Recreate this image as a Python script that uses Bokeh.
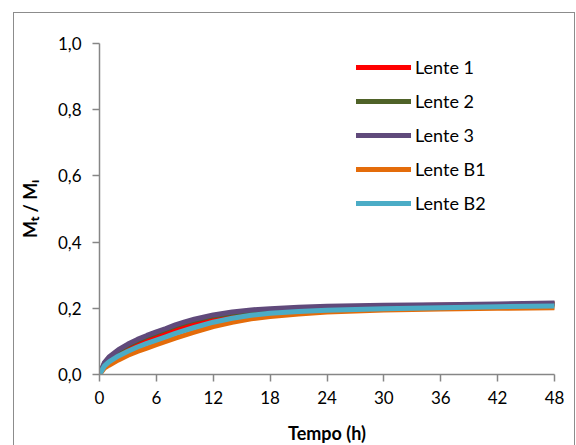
from bokeh.plotting import figure
from bokeh.models import Legend, LegendItem, CustomJSTickFormatter, FixedTicker, Range1d
from bokeh.embed import file_html
from bokeh.resources import INLINE

t = [0, 0.5, 1, 2, 3, 4, 5, 6, 7, 8, 9, 10, 12, 14, 16, 18, 21, 24, 30, 36, 42, 48]
lente1 = [0, 0.029, 0.044, 0.064, 0.079, 0.092, 0.104, 0.115, 0.126, 0.136, 0.145, 0.153, 0.168, 0.179, 0.187, 0.193, 0.199, 0.203, 0.207, 0.209, 0.211, 0.213]
lente2 = [0, 0.032, 0.050, 0.072, 0.089, 0.103, 0.115, 0.126, 0.136, 0.147, 0.156, 0.164, 0.177, 0.186, 0.192, 0.196, 0.200, 0.203, 0.206, 0.208, 0.210, 0.213]
lente3 = [0, 0.035, 0.053, 0.075, 0.092, 0.106, 0.118, 0.129, 0.139, 0.150, 0.159, 0.167, 0.180, 0.189, 0.195, 0.199, 0.203, 0.206, 0.209, 0.211, 0.213, 0.216]
lenteB1 = [0, 0.019, 0.028, 0.044, 0.058, 0.070, 0.080, 0.090, 0.100, 0.110, 0.119, 0.128, 0.145, 0.158, 0.168, 0.175, 0.183, 0.189, 0.195, 0.198, 0.200, 0.202]
lenteB2 = [0, 0.025, 0.038, 0.056, 0.070, 0.083, 0.094, 0.104, 0.114, 0.124, 0.133, 0.142, 0.158, 0.170, 0.179, 0.185, 0.190, 0.194, 0.199, 0.202, 0.205, 0.207]

names = ["Lente 1", "Lente 2", "Lente 3", "Lente B1", "Lente B2"]
series = [lente1, lente2, lente3, lenteB1, lenteB2]
colors = ["#FF0000", "#4F6228", "#604A7B", "#E46C0A", "#4BACC6"]

x_ticks = [0, 6, 12, 18, 24, 30, 36, 42, 48]
y_ticks = [0.0, 0.2, 0.4, 0.6, 0.8, 1.0]

FONT = "Lato"
AXIS_COLOR = "#868686"

p = figure(frame_width=455, frame_height=331, output_backend="svg", toolbar_location=None,
           x_range=Range1d(0, 48), y_range=Range1d(0, 1),
           min_border_left=85, min_border_right=20, min_border_top=30, min_border_bottom=68)
p.margin = (12, 0, 0, 13)
p.styles = {"border": "1px solid #8c8c8c"}
p.outline_line_color = None
p.xgrid.visible = False
p.ygrid.visible = False
p.background_fill_color = "white"
p.border_fill_color = "white"

renderers = []
for name, ys, c in zip(names, series, colors):
    r = p.line(t, ys, line_color=c, line_width=5, line_cap="round", line_join="round")
    renderers.append(r)

for ax in (p.xaxis[0], p.yaxis[0]):
    ax.axis_line_color = AXIS_COLOR
    ax.axis_line_width = 1.5
    ax.major_tick_line_color = AXIS_COLOR
    ax.major_tick_line_width = 1.5
    ax.major_tick_out = 7
    ax.major_tick_in = 0
    ax.minor_tick_line_color = None
    ax.major_label_text_font = FONT
    ax.major_label_text_font_size = "17px"
    ax.major_label_text_color = "black"
    ax.axis_label_text_font = FONT
    ax.axis_label_text_font_style = "bold"
    ax.axis_label_text_font_size = "18px"
    ax.axis_label_text_color = "black"

p.xaxis.ticker = FixedTicker(ticks=x_ticks)
p.yaxis.ticker = FixedTicker(ticks=y_ticks)
p.yaxis.formatter = CustomJSTickFormatter(code="return tick.toFixed(1).replace('.', ',');")
p.xaxis.major_label_standoff = 9
p.yaxis.major_label_standoff = 11
p.xaxis.axis_label = "Tempo (h)"
p.yaxis.axis_label = "M\u209c / M\u1d62"
p.xaxis.axis_label_standoff = 15
p.yaxis.axis_label_standoff = 14

legend = Legend(items=[LegendItem(label=n, renderers=[r]) for n, r in zip(names, renderers)],
                location=(257, 160))
legend.glyph_width = 55
legend.glyph_height = 20
legend.spacing = 12
legend.padding = 0
legend.margin = 0
legend.label_standoff = 4
legend.border_line_color = None
legend.background_fill_alpha = 0
legend.label_text_font = FONT
legend.label_text_font_size = "18px"
legend.label_text_color = "black"
p.add_layout(legend, "center")

open("out.html", "w").write(file_html(p, INLINE))
